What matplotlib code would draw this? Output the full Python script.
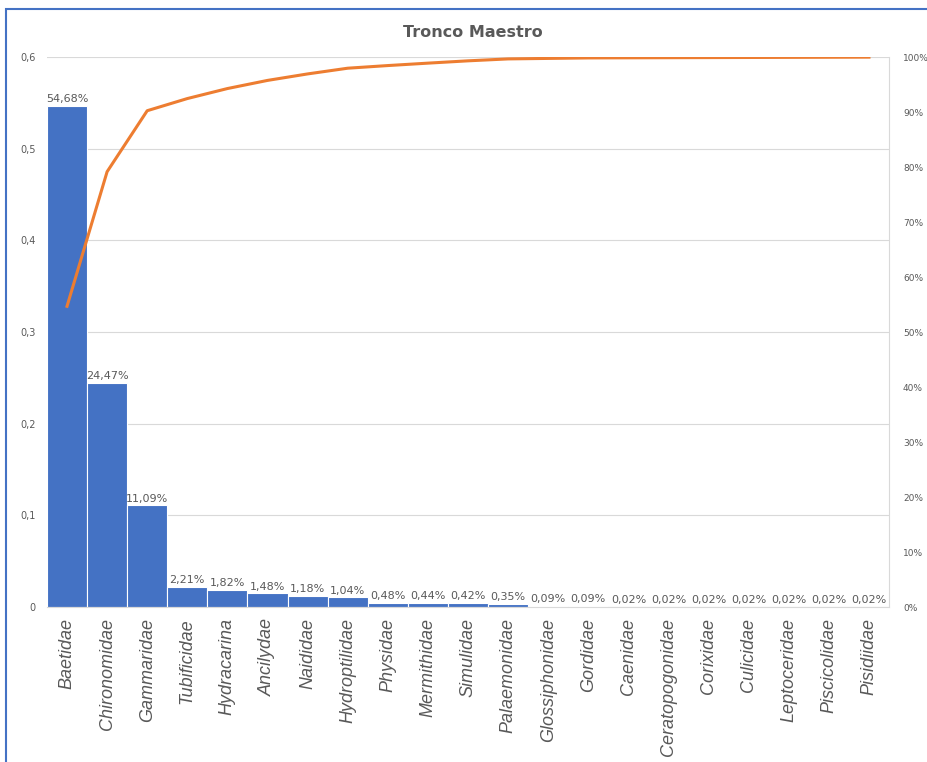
import matplotlib.pyplot as plt
import numpy as np
from matplotlib.patches import Rectangle
from matplotlib.ticker import FuncFormatter

familias = ['Baetidae', 'Chironomidae', 'Gammaridae', 'Tubificidae', 'Hydracarina',
            'Ancilydae', 'Naididae', 'Hydroptilidae', 'Physidae', 'Mermithidae',
            'Simulidae', 'Palaemonidae', 'Glossiphonidae', 'Gordidae', 'Caenidae',
            'Ceratopogonidae', 'Corixidae', 'Culicidae', 'Leptoceridae',
            'Piscicolidae', 'Pisidiidae']
porcentajes = [54.68, 24.47, 11.09, 2.21, 1.82, 1.48, 1.18, 1.04, 0.48, 0.44,
               0.42, 0.35, 0.09, 0.09, 0.02, 0.02, 0.02, 0.02, 0.02, 0.02, 0.02]

frac = np.array(porcentajes) / 100
acum = np.cumsum(porcentajes)
acum = acum / acum[-1] * 100

BLUE = '#4472C4'
ORANGE = '#ED7D31'
GRAY = '#595959'
GRID = '#D9D9D9'

fig = plt.figure(figsize=(9.28, 7.62), dpi=100)
ax1 = fig.add_axes([0.0506, 0.2034, 0.9074, 0.7216])
x = np.arange(len(familias))
ax1.bar(x, frac, width=1.0, color=BLUE, edgecolor='white', linewidth=0.8, zorder=2)
for xi, v, p in zip(x, frac, porcentajes):
    ax1.text(xi, v + 0.002, f'{p:.2f}%'.replace('.', ','), ha='center', va='bottom',
             fontsize=8, color=GRAY, zorder=3)

ax1.set_xlim(-0.5, len(familias) - 0.5)
ax1.set_ylim(0, 0.6)
ax1.set_yticks(np.arange(0, 0.61, 0.1))
ax1.yaxis.set_major_formatter(FuncFormatter(lambda v, p: '0' if v == 0 else f'{v:.1f}'.replace('.', ',')))
ax1.grid(axis='y', color=GRID, linewidth=0.8, zorder=0)
ax1.set_axisbelow(True)
ax1.set_xticks(x)
ax1.set_xticklabels(familias, rotation=90, fontstyle='italic', fontsize=13,
                    color=GRAY, family='Liberation Sans')
ax1.tick_params(axis='x', length=0, pad=8)
ax1.tick_params(axis='y', length=0, labelsize=7, labelcolor=GRAY, pad=8)
for s in ['left', 'top']:
    ax1.spines[s].set_visible(False)
ax1.spines['bottom'].set_color(GRID)
ax1.spines['right'].set_color(GRID)

ax2 = ax1.twinx()
ax2.plot(x, acum, color=ORANGE, linewidth=2.2, zorder=4)
ax2.set_ylim(0, 100)
ax2.set_yticks(np.arange(0, 101, 10))
ax2.yaxis.set_major_formatter(FuncFormatter(lambda v, p: f'{v:.0f}%'))
ax2.tick_params(axis='y', length=0, labelsize=6.5, labelcolor=GRAY, pad=10)
for s in ['left', 'top', 'bottom', 'right']:
    ax2.spines[s].set_visible(False)

fig.text(0.51, 0.958, 'Tronco Maestro', ha='center', va='center', fontsize=11.5,
         fontweight='bold', color=GRAY)

fig.patches.append(Rectangle((6 / 928, -0.1), 1.2, 1.1 - 9 / 762, transform=fig.transFigure,
                             fill=False, edgecolor=BLUE, linewidth=1.5))

fig.savefig('out.png', dpi=100)
